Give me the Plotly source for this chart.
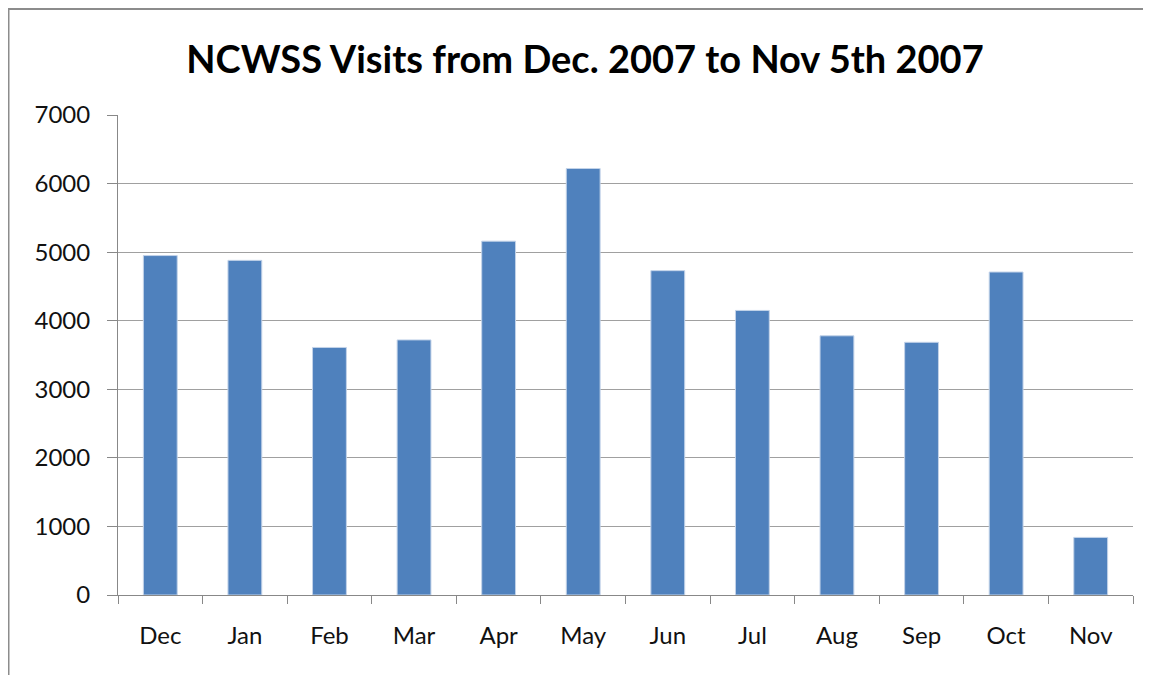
import plotly.graph_objects as go

months = ["Dec", "Jan", "Feb", "Mar", "Apr", "May", "Jun", "Jul", "Aug", "Sep", "Oct", "Nov"]
visits = [4950, 4880, 3610, 3720, 5160, 6220, 4730, 4150, 3780, 3685, 4710, 840]
y_ticks = [0, 1000, 2000, 3000, 4000, 5000, 6000, 7000]
title_text = "NCWSS Visits from Dec. 2007 to Nov 5th 2007"

# page body has an 8px offset, so figure coordinates = screen - 8
W, H = 1143, 667
L, R, T, B = 110, 1125, 107, 587  # plot area in figure pixels

fig = go.Figure(go.Bar(
    x=months, y=visits,
    marker=dict(color="#4F81BD", line=dict(color="#C3D3E9", width=1)),
    width=0.4,
))

def px_x(p):
    return (p - L) / (R - L)

def px_y(p):
    return (B - p) / (B - T)

font = "Lato, 'Open Sans', sans-serif"

fig.update_layout(
    width=W, height=H,
    margin=dict(l=L, r=W - R, t=T, b=H - B),
    paper_bgcolor="white", plot_bgcolor="white",
    showlegend=False,
    title=dict(text="<b>" + title_text + "</b>", x=577 / W, xanchor="center",
               y=1 - 52 / H, yanchor="middle",
               font=dict(family=font, size=38, color="#000000")),
    font=dict(family=font, size=24, color="#111111"),
    xaxis=dict(
        type="category", showline=True, linecolor="#888888", linewidth=1,
        ticks="outside", tickson="boundaries", ticklen=8, tickcolor="#888888",
        ticklabelstandoff=19, showgrid=False,
        tickfont=dict(family=font, size=24, color="#111111"),
    ),
    yaxis=dict(
        range=[0, 7000], tickvals=y_ticks, ticktext=[str(v) for v in y_ticks],
        showline=True, linecolor="#888888", linewidth=1,
        ticks="outside", ticklen=10, tickcolor="#888888",
        ticklabelstandoff=12,
        showgrid=True, gridcolor="#A0A0A0", gridwidth=1,
        zeroline=False,
        tickfont=dict(family=font, size=24, color="#111111"),
    ),
    shapes=[
        dict(type="line", xref="paper", yref="paper",
             x0=px_x(0), x1=px_x(1160), y0=px_y(1), y1=px_y(1),
             line=dict(color="#8C8C8C", width=2)),
        dict(type="line", xref="paper", yref="paper",
             x0=px_x(0.5), x1=px_x(0.5), y0=px_y(1), y1=px_y(690),
             line=dict(color="#8C8C8C", width=2)),
    ],
)

fig.write_html("out.html")
